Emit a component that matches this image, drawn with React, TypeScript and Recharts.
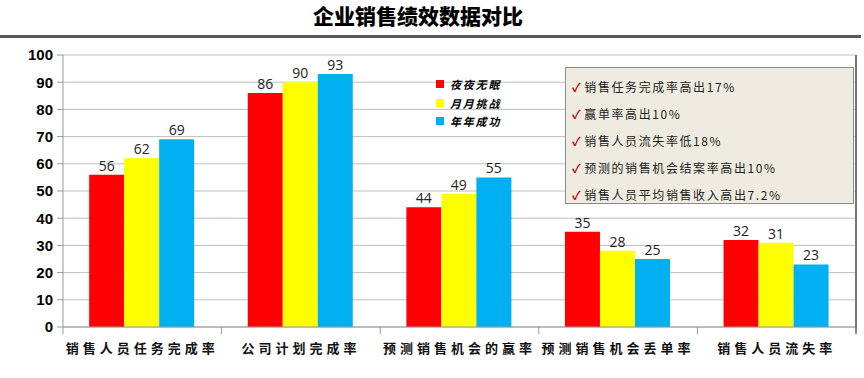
import React from 'react';
import { BarChart, Bar, XAxis, YAxis, CartesianGrid, LabelList } from 'recharts';

const categories = ['销售人员任务完成率', '公司计划完成率', '预测销售机会的赢率', '预测销售机会丢单率', '销售人员流失率'];
const seriesNames = ['夜夜无眠', '月月挑战', '年年成功'];
const series1 = [56, 86, 44, 35, 32];
const series2 = [62, 90, 49, 28, 31];
const series3 = [69, 93, 55, 25, 23];
const yTicks = [0, 10, 20, 30, 40, 50, 60, 70, 80, 90, 100];
const notes = ['销售任务完成率高出17%', '赢单率高出10%', '销售人员流失率低18%', '预测的销售机会结案率高出10%', '销售人员平均销售收入高出7.2%'];
const title = '企业销售绩效数据对比';

const colors = ['#FF0000', '#FFFF00', '#00B0F0'];
const keys = ['s1', 's2', 's3'];

const data = categories.map((c, i) => ({ name: c, s1: series1[i], s2: series2[i], s3: series3[i] }));

const CJK = '"Noto Sans CJK SC", "Noto Sans", sans-serif';

const XTick = (props: any) => {
  const { x, y, payload, index } = props;
  const half = 793 / 5 / 2;
  return (
    <g>
      <line x1={x - half} y1={y - 8} x2={x - half} y2={y - 1} stroke="#999" strokeWidth={1} />
      {index === categories.length - 1 && (
        <line x1={x + half} y1={y - 8} x2={x + half} y2={y - 1} stroke="#666" strokeWidth={1.5} />
      )}
      <text x={x} y={y + 18} textAnchor="middle" fontFamily={CJK} fontSize={13} fontWeight={700} letterSpacing={4} fill="#111">
        {payload.value}
      </text>
    </g>
  );
};

export default function App() {
  return (
    <div style={{ position: 'absolute', left: 0, top: 0, width: 864, height: 378, background: '#fff', overflow: 'hidden' }}>
      <div style={{ position: 'absolute', left: 0, width: 836, top: 2, textAlign: 'center', fontFamily: CJK, fontWeight: 900, fontSize: 21, lineHeight: '26px', color: '#000' }}>
        {title}
      </div>
      <div style={{ position: 'absolute', left: 0, top: 35, width: 861, height: 3, background: '#595959' }} />
      <BarChart
        width={864}
        height={378}
        data={data}
        margin={{ top: 55, right: 8, left: 3, bottom: 21 }}
        barGap={0}
        barCategoryGap="16.5%"
      >
        <CartesianGrid vertical={false} stroke="#BFBFBF" strokeWidth={1} />
        <XAxis dataKey="name" height={30} tickLine={false} axisLine={{ stroke: '#999' }} tick={<XTick />} interval={0} />
        <YAxis
          width={60}
          domain={[0, 100]}
          ticks={yTicks}
          interval={0}
          tickSize={6}
          tickMargin={4}
          axisLine={{ stroke: '#999' }}
          tickLine={{ stroke: '#999' }}
          tick={{ fontFamily: '"Liberation Sans", Arial, sans-serif', fontSize: 15, fontWeight: 700, fill: '#000' }}
        />
        {keys.map((k, i) => (
          <Bar key={k} dataKey={k} name={seriesNames[i]} fill={colors[i]} isAnimationActive={false}>
            <LabelList dataKey={k} position="top" offset={4} style={{ fontFamily: '"Open Sans", sans-serif', fontSize: 14, fill: '#222' }} />
          </Bar>
        ))}
      </BarChart>
      <div style={{ position: 'absolute', left: 855, top: 55, width: 2, height: 274, background: '#777' }} />
      <div style={{ position: 'absolute', left: 436, top: 75, fontFamily: CJK }}>
        {seriesNames.map((n, i) => (
          <div key={n} style={{ display: 'flex', alignItems: 'center', height: 18.5 }}>
            <div style={{ width: 8, height: 8, background: colors[i], marginRight: 6 }} />
            <span style={{ fontSize: 11, fontWeight: 700, fontStyle: 'italic', letterSpacing: 1.8, color: '#000' }}>{n}</span>
          </div>
        ))}
      </div>
      <div
        style={{
          position: 'absolute',
          left: 565,
          top: 67,
          width: 289,
          height: 137,
          background: '#EEECE1',
          border: '1px solid #8C8C8C',
          fontFamily: CJK,
          paddingTop: 5,
          boxSizing: 'border-box',
        }}
      >
        {notes.map((t) => (
          <div key={t} style={{ height: 27, lineHeight: '27px', fontSize: 12, letterSpacing: 1.6, color: '#222', paddingLeft: 6, whiteSpace: 'nowrap' }}>
            <span style={{ color: '#C00000', fontWeight: 700, marginRight: 2 }}>✓</span>
            {t}
          </div>
        ))}
      </div>
    </div>
  );
}
